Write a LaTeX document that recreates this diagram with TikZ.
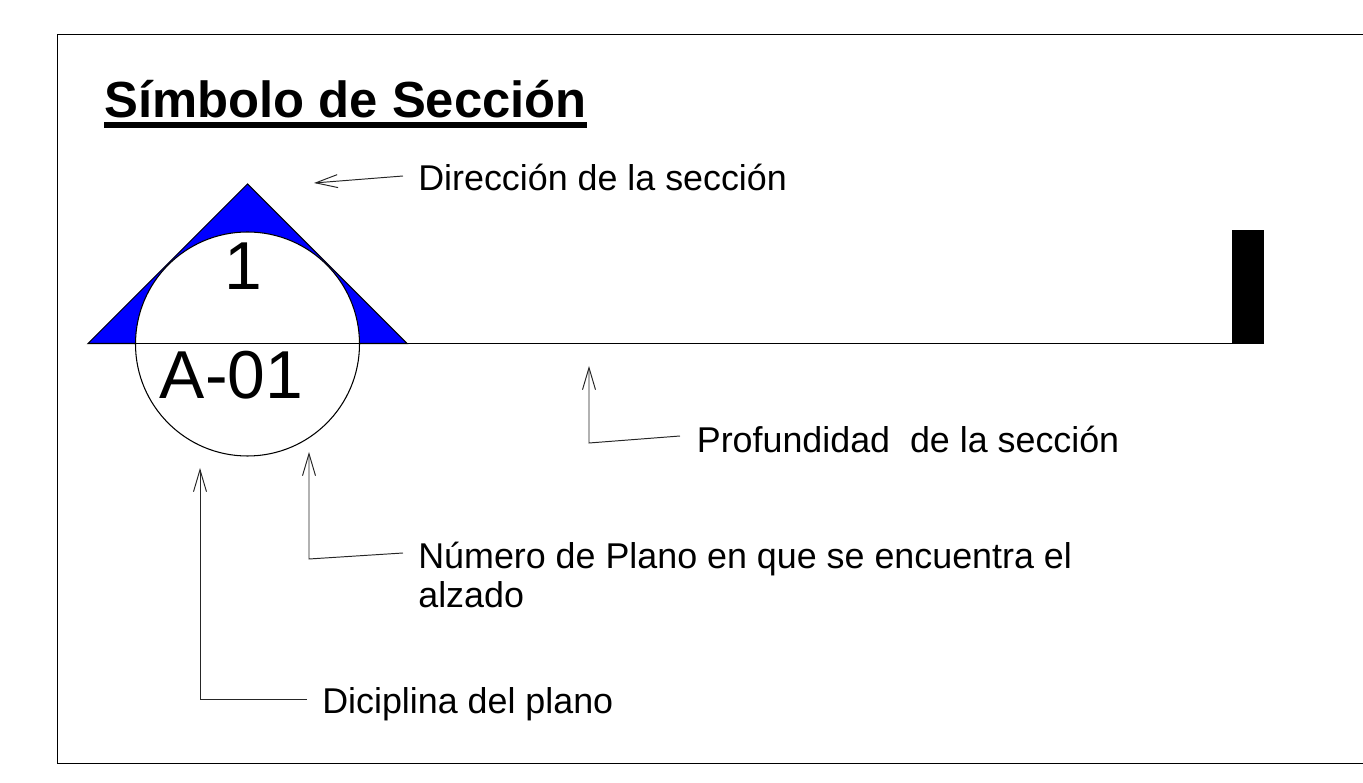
\documentclass[tikz,border=0pt]{standalone}
\usepackage{fontspec}
\setmainfont{Liberation Sans}
\usetikzlibrary{calc,positioning,arrows.meta}

\newsavebox{\titlebox}
\newcommand{\heavyul}[1]{\sbox{\titlebox}{#1}\rlap{\usebox{\titlebox}}\rule[-5.6pt]{\wd\titlebox}{3.3pt}}

\tikzset{
  leader/.style={line width=0.55pt,black!85,-{Straight Barb[length=0.44cm,width=0.26cm,line width=0.55pt]}},
  callout/.style={inner ysep=0pt,inner xsep=0.3cm,anchor=west,font=\fontsize{20.4}{22.2}\selectfont},
  bigmark/.style={inner sep=0pt,anchor=base,font=\fontsize{38.6}{40}\selectfont}
}

\begin{document}
\begin{tikzpicture}[x=0.02cm,y=-0.02cm]
\useasboundingbox (0,0) rectangle (1363,783);
\pgfmathsetmacro{\cx}{247.5} % Symbol centre
\pgfmathsetmacro{\cy}{344}
\pgfmathsetmacro{\rad}{112} % Circle radius

% Sheet frame, open on the right
\draw[line width=0.5pt] (1363,34) -- (57,34) -- (57,763) -- (1363,763);

% Title
\node[inner sep=0pt,anchor=base west,font=\fontsize{28.9}{32}\bfseries\selectfont] (titleLabel) at (104,118) {\heavyul{Símbolo de Sección}};

% Triangle, circle, section line, depth bar
\filldraw[fill=blue,line width=0.6pt] (88,343.5) -- (\cx,184) -- (407,343.5) -- cycle;
\filldraw[fill=white,line width=0.6pt] (\cx,\cy) circle (\rad);
\draw[line width=0.7pt] (88,343.5) -- (1232,343.5);
\fill[black] (1232,230) rectangle (1264,344);

% Inside the circle
\node[bigmark] (sheetNum) at (243.5,290) {1};
\node[bigmark] (planNum) at (231.5,399) {A-01};

% Callouts
\node[callout] (dirLabel) at (403,177) {Dirección de la sección};
\node[callout] (depthLabel) at (681.5,439) {Profundidad\ \ de la sección};
\node[callout,anchor=north west,align=left] (numLabel) at (403,542) {Número de Plano en que se encuentra el\\alzado};
\node[callout] (discLabel) at (307,704) {Diciplina del plano};

% Arrow tips and corners
\coordinate (dirTip) at (314,183);
\coordinate (depthTip) at (589,366);
\coordinate (depthBend) at (589,443);
\coordinate (numTip) at (309,452);
\coordinate (numBend) at (309,559);
\coordinate (discTip) at (200,468);
\coordinate (discBend) at (200,699);

\draw[leader] ($(dirLabel.west)+(0,-1)$) -- (dirTip);
\draw[leader] ($(depthLabel.west)+(-1.5,-3)$) -- (depthBend) -- (depthTip);
\draw[leader] ($(numLabel.north west)+(0,11)$) -- (numBend) -- (numTip);
\draw[leader] ($(discLabel.west)+(0,-5)$) -- (discBend) -- (discTip);
\end{tikzpicture}
\end{document}
